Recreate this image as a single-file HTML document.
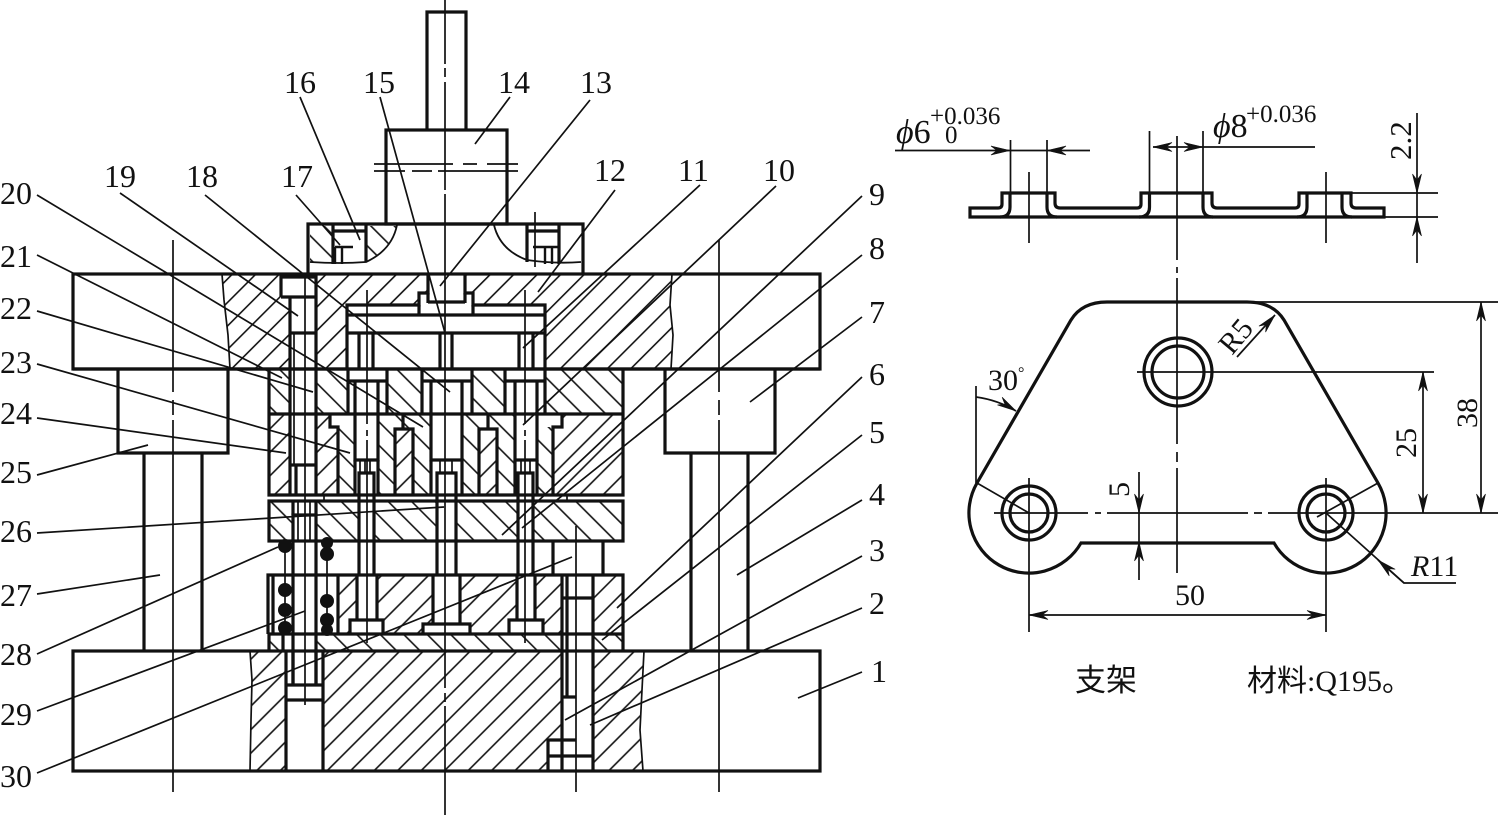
<!DOCTYPE html>
<html><head><meta charset="utf-8"><style>
html,body{margin:0;padding:0;background:#fff}
svg{display:block}
.k{fill:none;stroke:#111;stroke-width:3.2;stroke-linejoin:miter}
.t{fill:none;stroke:#111;stroke-width:1.7}
.w{fill:#fff;stroke:none}
text{font-family:"Liberation Serif","Noto Serif CJK SC",serif;fill:#111;font-size:32px}
</style></head><body>
<svg width="1498" height="815" viewBox="0 0 1498 815" xmlns="http://www.w3.org/2000/svg">
<defs>
<pattern id="f" width="16.6" height="16.6" patternUnits="userSpaceOnUse" patternTransform="rotate(45)"><line x1="9.55" y1="0" x2="9.55" y2="16.6" stroke="#111" stroke-width="1.6"/></pattern>
<pattern id="g" width="16.6" height="16.6" patternUnits="userSpaceOnUse" patternTransform="rotate(45)"><line x1="12.7" y1="0" x2="12.7" y2="16.6" stroke="#111" stroke-width="1.6"/></pattern>
<pattern id="b" width="16.6" height="16.6" patternUnits="userSpaceOnUse" patternTransform="rotate(45)"><line x1="0" y1="13.7" x2="16.6" y2="13.7" stroke="#111" stroke-width="1.6"/></pattern>
<marker id="a" viewBox="-20 -5 21 10" refX="0" refY="0" markerWidth="21" markerHeight="10" markerUnits="userSpaceOnUse" orient="auto-start-reverse"><path d="M0,0 L-19,-4.500 L-13,0 L-19,4.500 Z" fill="#111" stroke="#111" stroke-width=".6"/></marker>
</defs>
<rect width="1498" height="815" fill="#fff"/>

<!-- hatching -->
<path d="M222,274 L224,300 L228,335 L230,369 H671 L673,335 L670,305 L672,274 Z" fill="url(#f)"/>
<rect x="269" y="369" width="354" height="45" fill="url(#b)"/>
<rect x="269" y="414" width="21" height="81" fill="url(#g)"/>
<rect x="316" y="414" width="22" height="81" fill="url(#g)"/>
<rect x="338" y="427" width="17" height="68" fill="url(#b)"/>
<rect x="378" y="414" width="53" height="81" fill="url(#b)"/>
<rect x="395" y="429" width="18" height="66" class="w"/>
<rect x="395" y="429" width="18" height="66" fill="url(#g)"/>
<rect x="462" y="414" width="53" height="81" fill="url(#b)"/>
<rect x="479" y="429" width="18" height="66" class="w"/>
<rect x="479" y="429" width="18" height="66" fill="url(#g)"/>
<rect x="537" y="427" width="16" height="68" fill="url(#b)"/>
<rect x="553" y="427" width="70" height="68" fill="url(#g)"/>
<rect x="562" y="414" width="61" height="13" fill="url(#g)"/>
<rect x="269" y="501" width="354" height="40" fill="url(#b)"/>
<rect x="338" y="575" width="224" height="59" fill="url(#g)"/>
<rect x="593" y="575" width="30" height="59" fill="url(#g)"/>
<rect x="269" y="634" width="354" height="17" fill="url(#b)"/>
<path d="M250,651 L252,680 L251,720 L250,771 H643 L640,730 L642,690 L644,651 Z" fill="url(#g)"/>
<!-- block hatch -->
<path d="M310,226 H333 V262 Q320,263 310,262 Z" fill="url(#b)"/>
<path d="M366,226 H397 Q392,250 366,262 Z" fill="url(#b)"/>

<!-- white clears -->
<rect x="281" y="276" width="35" height="21" class="w"/>
<rect x="290" y="297" width="26" height="198" class="w"/>
<rect x="347" y="305" width="198" height="64" class="w"/>
<rect x="419" y="293" width="54" height="12" class="w"/>
<rect x="428" y="274" width="37" height="20" class="w"/>
<rect x="348" y="369" width="39" height="45" class="w"/>
<rect x="422" y="369" width="50" height="45" class="w"/>
<rect x="505" y="369" width="40" height="45" class="w"/>
<rect x="355" y="414" width="23" height="81" class="w"/>
<rect x="431" y="414" width="31" height="81" class="w"/>
<rect x="515" y="414" width="22" height="81" class="w"/>
<rect x="293" y="501" width="23" height="40" class="w"/>
<rect x="359" y="501" width="15" height="40" class="w"/>
<rect x="437" y="501" width="19" height="40" class="w"/>
<rect x="518" y="501" width="15" height="40" class="w"/>
<rect x="357" y="575" width="20" height="59" class="w"/>
<rect x="350" y="620" width="33" height="14" class="w"/>
<rect x="433" y="575" width="27" height="59" class="w"/>
<rect x="423" y="624" width="47" height="10" class="w"/>
<rect x="517" y="575" width="18" height="59" class="w"/>
<rect x="509" y="620" width="34" height="14" class="w"/>
<rect x="283" y="634" width="33" height="17" class="w"/>
<rect x="286" y="651" width="37" height="120" class="w"/>
<rect x="562" y="575" width="31" height="165" class="w"/>
<rect x="548" y="740" width="45" height="31" class="w"/>

<!-- thick main -->
<g class="k">
<path d="M427,130 V12 H466 V130"/>
<rect x="386" y="130" width="121" height="94"/>
<path d="M308,274 V224 H583 V274"/>
<rect x="73" y="274" width="747" height="95"/>
<path d="M118,369 V453 H228 V369"/>
<path d="M665,369 V453 H775 V369"/>
<path d="M144,453 V651 M202,453 V651 M691,453 V651 M748,453 V651"/>
<rect x="73" y="651" width="747" height="120"/>
<!-- upper block parts -->
<path d="M333,224 V264 M366,224 V262 M333,231 H366 M527,224 V262 M559,224 V264 M527,231 H559"/>
<g style="stroke-width:2.4">
<path d="M335,247 H353 M335,247 V264 M342,247 V264 M533,247 H559 M545,247 V264 M552,247 V264"/>
</g>
<!-- bolt upper -->
<path d="M281,297 V277 H316 V495 M281,297 H316 M290,297 V495 M290,333 H316 M290,465 H316 M296,465 V495"/>
<!-- cavity -->
<path d="M347,369 V305 H419 V293 H428 V274 M465,274 V293 H473 V305 H545 V369"/>
<path d="M428,293 V303 M465,293 V303 M428,302 H465 M419,305 V315 M473,305 V315 M347,315 H545 M347,333 H545"/>
<path d="M359,333 V369 M373,333 V369 M440,333 V369 M452,333 V369 M519,333 V369 M533,333 V369"/>
<path d="M269,369 V495 H623 V369 M73,369 H820"/>
<path d="M348,369 V414 M387,369 V414 M422,369 V414 M472,369 V414 M505,369 V414 M545,369 V414"/>
<path d="M348,381 H387 M422,381 H472 M505,381 H545"/>
<path d="M269,414 H623"/>
<path d="M355,381 V460 H378 V381 M431,381 V460 H462 V381 M515,381 V460 H537 V381"/>
<path d="M330,414 V427 H338 V495 M562,414 V427 H553 V495"/>
<path d="M395,495 V429 H413 V495 M403,414 V429 M479,495 V429 H497 V495 M488,414 V429"/>
<path d="M355,460 V495 M378,460 V495 M431,460 V495 M462,460 V495 M515,460 V495 M537,460 V495"/>
<path d="M359,495 V473 H374 V495 M437,495 V473 H456 V495 M518,495 V473 H533 V495"/>
<!-- plate 2 -->
<rect x="269" y="501" width="354" height="40"/>
<path d="M293,575 V515 H316 V684 M293,575 V684"/>
<path d="M293,501 V515 M316,501 V515"/>
<path d="M359,495 V575 M374,495 V575 M437,495 V575 M456,495 V575 M518,495 V575 M533,495 V575"/>
<path d="M553,541 V575 M603,541 V575"/>
<!-- lower -->
<path d="M268,634 V575 H623 V651 M269,634 V651 M268,634 H623"/>
<path d="M273,575 V634 M338,575 V634"/>
<path d="M357,575 V620 M377,575 V620 M350,634 V620 H383 V634 M433,575 V624 M460,575 V624 M423,634 V624 H470 V634 M517,575 V620 M535,575 V620 M509,634 V620 H543 V634"/>
<path d="M562,575 V771 M593,575 V771 M562,598 H593 M567,575 V697 M562,697 H576 M548,771 V740 H576 M548,756 H593"/>
<path d="M283,634 V651 M286,651 V771 M323,651 V771 M286,685 H323 M286,700 H323 M293,651 V685 M316,651 V685"/>
</g>

<!-- thin details -->
<g class="t">
<path d="M250,651 L252,680 L251,720 L250,771 M643,771 L640,730 L642,690 L644,651"/>
<path d="M222,274 L224,300 L228,335 L230,369 M672,274 L670,305 L673,335 L671,369"/>
<path d="M397,225 Q392,250 366,262 Q340,264 310,262 M494,225 Q500,250 527,260 Q555,264 581,262" style="stroke-width:1.8"/>
<path d="M285,541 V634 M327,541 V634"/>
<path d="M294,333 V465 M298,501 V541 M310,501 V541"/>
<path d="M316,495 H324 V501 M553,495 H567 V501"/>
<path d="M360,460 V473 M365,460 V473 M370,460 V473 M440,460 V473 M452,460 V473 M521,460 V473 M530,460 V473"/>
<path d="M374,164 H453 M463,164 H477 M487,164 H518 M374,171 H405 M412,171 H432 M438,171 H518"/>
<!-- center lines -->
<path d="M173,240 V392 M173,400 V415 M173,420 V792"/>
<path d="M719,240 V392 M719,400 V415 M719,420 V792"/>
<path d="M445,0 V64 M445,68 V77 M445,82 V190 M445,194 V688 M445,693 V702 M445,706 V815"/>
<path d="M305,277 V705 M576,526 V792 M535,212 V267"/>
<path d="M367,290 V424 M367,430 V436 M367,440 V643 M525,290 V424 M525,430 V436 M525,440 V643"/>
</g>

<!-- springs -->
<g fill="#111">
<circle cx="285" cy="546" r="7"/><circle cx="285" cy="590" r="7"/><circle cx="285" cy="610" r="7"/><circle cx="285" cy="628" r="7"/>
<circle cx="327" cy="543" r="6"/><circle cx="327" cy="554" r="7"/><circle cx="327" cy="601" r="7"/><circle cx="327" cy="620" r="7"/><circle cx="327" cy="630" r="6"/>
</g>

<!-- leaders -->
<g class="t">
<path d="M862,672 L798,698 M862,608 L590,725 M862,556 L565,720 M862,500 L737,575 M862,435 L602,640 M862,377 L617,608 M862,317 L750,402 M862,255 L522,528 M862,196 L502,535 M776,186 L523,425 M700,185 L523,348 M615,190 L538,292 M590,100 L440,286 M510,97 L475,144 M380,97 L445,333 M300,97 L360,240 M296,195 L340,245 M205,195 L450,392 M120,193 L298,316 M37,195 L423,427 M37,255 L282,378 M37,311 L313,392 M37,364 L350,453 M37,418 L286,453 M37,475 L148,445 M37,533 L444,507 M37,594 L160,575 M37,654 L278,547 M37,711 L305,611 M37,773 L572,557"/>
</g>

<!-- numbers -->
<text x="284" y="93">16</text><text x="363" y="93">15</text><text x="498" y="93">14</text><text x="580" y="93">13</text>
<text x="594" y="181">12</text><text x="678" y="181">11</text><text x="763" y="181">10</text>
<text x="869" y="205">9</text><text x="869" y="259">8</text><text x="869" y="323">7</text><text x="869" y="385">6</text><text x="869" y="443">5</text><text x="869" y="505">4</text><text x="869" y="561">3</text><text x="869" y="614">2</text><text x="871" y="682">1</text>
<text x="281" y="187">17</text><text x="186" y="187">18</text><text x="104" y="187">19</text>
<text x="0" y="204">20</text><text x="0" y="267">21</text><text x="0" y="319">22</text><text x="0" y="373">23</text><text x="0" y="424">24</text><text x="0" y="483">25</text><text x="0" y="542">26</text><text x="0" y="606">27</text><text x="0" y="665">28</text><text x="0" y="725">29</text><text x="0" y="787">30</text>

<!-- right: side view -->
<g class="k">
<path d="M970,208 H998 Q1002,208 1002,204 V193 H1055 V203 Q1055,208 1060,208 H1137 Q1141,208 1141,204 V193 H1212 V203 Q1212,208 1217,208 H1295 Q1299,208 1299,204 V193 H1351 V203 Q1351,208 1356,208 H1384 V217 H970 Z"/>
<path d="M1010,193 V207 Q1010,217 1000,217 M1047,193 V207 Q1047,217 1057,217 M1149.5,193 V207 Q1149.5,217 1139,217 M1203,193 V207 Q1203,217 1213,217 M1307,193 V207 Q1307,217 1297,217 M1342,193 V207 Q1342,217 1352,217"/>
</g>
<g class="t">
<path d="M1010.5,140 V193 M1047,140 V193 M1029,172 V243 M1149.5,131 V193 M1203,131 V193 M1326,172 V243"/>
<path d="M1177,136 V260 M1177,267 V273 M1177,278 V444 M1177,452 V462 M1177,468 V573"/>
<path d="M895,150.500 H1010" marker-end="url(#a)"/>
<path d="M1090,150.500 H1047" marker-end="url(#a)"/>
<path d="M1010,150.500 H1047"/>
<path d="M1153,147 H1203" marker-start="url(#a)" marker-end="url(#a)"/>
<path d="M1203,147 H1315"/>
<path d="M1351,193 H1438 M1384,217 H1438"/>
<path d="M1417,113 V193" marker-end="url(#a)"/>
<path d="M1417,263 V217" marker-end="url(#a)"/>
<path d="M1417,193 V217"/>
<!-- plate -->
<path d="M1247,302 H1498 M1137,372 H1434 M994,513 H1088 M1095,513 H1101 M1107,513 H1248 M1254,513 H1262 M1268,513 H1498"/>
<path d="M1481,302 V513" marker-start="url(#a)" marker-end="url(#a)"/>
<path d="M1423,372 V513" marker-start="url(#a)" marker-end="url(#a)"/>
<path d="M1139,472 V513" marker-end="url(#a)"/>
<path d="M1139,580 V542" marker-end="url(#a)"/>
<path d="M1139,513 V542"/>
<path d="M1029,478 V632 M1326,478 V632"/>
<path d="M1029,615 H1326" marker-start="url(#a)" marker-end="url(#a)"/>
<path d="M976,386 V483 M977,483 L1029,513 M1378,483 L1317,517"/>
<path d="M976,397 Q998,400 1016,411" marker-end="url(#a)"/>
<path d="M1237,357 L1275,315" marker-end="url(#a)"/>
<path d="M1326,513 L1404,583 H1456"/>
<path d="M1404,583 L1378,560" marker-end="url(#a)"/>
</g>
<g class="k">
<path d="M1107,302 H1247 Q1273,302 1284,320 L1378,483 A60,60 0 1 1 1274,543 H1081 A60,60 0 1 1 977,483 L1071,320 Q1082,302 1107,302 Z"/>
<circle cx="1178" cy="372" r="34"/><circle cx="1178" cy="372" r="26"/>
<circle cx="1029" cy="513" r="27"/><circle cx="1029" cy="513" r="19"/>
<circle cx="1326" cy="513" r="27"/><circle cx="1326" cy="513" r="19"/>
</g>

<!-- right texts -->
<text x="896" y="143" style="font-size:34px"><tspan style="font-style:italic">ϕ</tspan>6</text>
<text x="930" y="124" style="font-size:25px">+0.036</text>
<text x="945" y="143" style="font-size:25px">0</text>
<text x="1213" y="137" style="font-size:34px"><tspan style="font-style:italic">ϕ</tspan>8</text>
<text x="1246" y="122" style="font-size:25px">+0.036</text>
<text transform="translate(1411,160) rotate(-90)" style="font-size:31px">2.2</text>
<text x="988" y="390" style="font-size:30px">30<tspan dy="-12" style="font-size:16px">°</tspan></text>
<text transform="translate(1232,356) rotate(-50)" style="font-size:30px">R5</text>
<text transform="translate(1477,428) rotate(-90)" style="font-size:30px">38</text>
<text transform="translate(1416,458) rotate(-90)" style="font-size:30px">25</text>
<text transform="translate(1129,497) rotate(-90)" style="font-size:30px">5</text>
<text x="1175" y="605" style="font-size:30px">50</text>
<text x="1411" y="576" style="font-size:30px"><tspan style="font-style:italic">R</tspan>11</text>
<text x="1075" y="691" style="font-family:'Liberation Serif','Noto Sans CJK SC',sans-serif;font-size:31px">支架</text>
<text x="1247" y="691" style="font-family:'Liberation Serif','Noto Sans CJK SC',sans-serif;font-size:30px">材料:Q195。</text>
</svg>
</body></html>
